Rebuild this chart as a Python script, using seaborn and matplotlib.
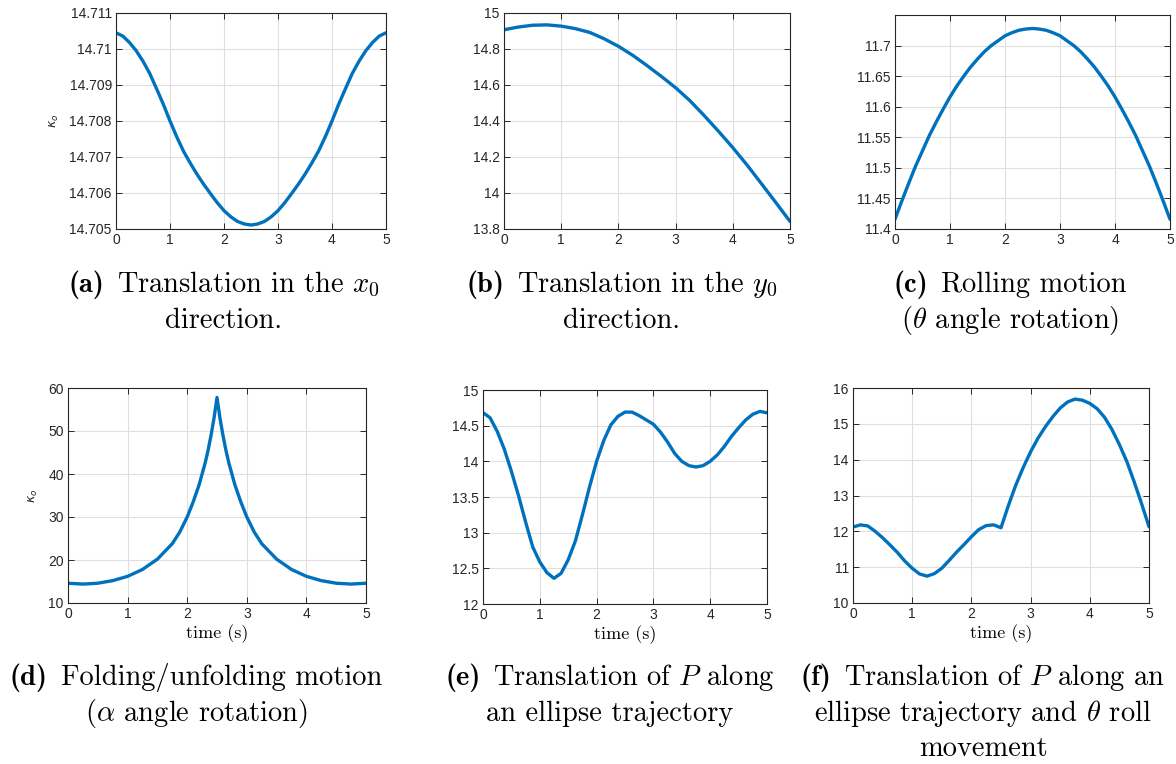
import matplotlib
matplotlib.use("Agg")
import matplotlib.pyplot as plt
import seaborn as sns
import pandas as pd

# ---------------- data ----------------
time_fine = [0, 0.125, 0.25, 0.375, 0.5, 0.625, 0.75, 0.875, 1.0, 1.125, 1.25, 1.375,
             1.5, 1.625, 1.75, 1.875, 2.0, 2.125, 2.25, 2.375, 2.5, 2.625, 2.75, 2.875,
             3.0, 3.125, 3.25, 3.375, 3.5, 3.625, 3.75, 3.875, 4.0, 4.125, 4.25, 4.375,
             4.5, 4.625, 4.75, 4.875, 5.0]

kappa_a = [14.71045, 14.71036, 14.71018, 14.70995, 14.70966, 14.70932, 14.70890,
           14.70847, 14.70800, 14.70756, 14.70716, 14.70683, 14.70652, 14.70624,
           14.70598, 14.70573, 14.70551, 14.70534, 14.70521, 14.70514, 14.70511,
           14.70514, 14.70521, 14.70534, 14.70551, 14.70573, 14.70598, 14.70624,
           14.70652, 14.70683, 14.70716, 14.70756, 14.70800, 14.70847, 14.70890,
           14.70932, 14.70966, 14.70995, 14.71018, 14.71036, 14.71045]

time_b = [0, 0.25, 0.5, 0.75, 1.0, 1.25, 1.5, 1.75, 2.0, 2.25, 2.5,
          2.75, 3.0, 3.25, 3.5, 3.75, 4.0, 4.25, 4.5, 4.75, 5.0]
kappa_b = [14.907, 14.922, 14.932, 14.934, 14.927, 14.913, 14.892, 14.857, 14.815,
           14.765, 14.708, 14.648, 14.585, 14.513, 14.430, 14.343, 14.252, 14.155,
           14.052, 13.948, 13.842]

kappa_c = [11.416, 11.446, 11.475, 11.503, 11.528, 11.553, 11.575, 11.596, 11.616,
           11.634, 11.650, 11.665, 11.678, 11.690, 11.700, 11.708, 11.716, 11.721,
           11.725, 11.727, 11.728, 11.727, 11.725, 11.721, 11.716, 11.708, 11.700,
           11.690, 11.678, 11.665, 11.650, 11.634, 11.616, 11.596, 11.575, 11.553,
           11.528, 11.503, 11.475, 11.446, 11.416]

time_d = [0, 0.25, 0.5, 0.75, 1.0, 1.25, 1.5, 1.75, 1.875, 2.0, 2.1, 2.2, 2.3, 2.35,
          2.4, 2.45, 2.5, 2.55, 2.6, 2.65, 2.7, 2.8, 2.9, 3.0, 3.125, 3.25, 3.5,
          3.75, 4.0, 4.25, 4.5, 4.75, 5.0]
kappa_d = [14.6, 14.4, 14.6, 15.2, 16.2, 17.8, 20.2, 23.8, 26.5, 30.0, 33.5, 37.5,
           42.5, 45.5, 49.0, 53.0, 57.8, 53.0, 49.0, 45.5, 42.5, 37.5, 33.5, 30.0,
           26.5, 23.8, 20.2, 17.8, 16.2, 15.2, 14.6, 14.4, 14.6]

kappa_e = [14.683, 14.61, 14.42, 14.17, 13.86, 13.52, 13.15, 12.80, 12.59, 12.44,
           12.36, 12.43, 12.62, 12.88, 13.25, 13.64, 14.00, 14.29, 14.51, 14.63,
           14.69, 14.69, 14.64, 14.58, 14.52, 14.41, 14.27, 14.11, 14.00, 13.94,
           13.92, 13.94, 14.00, 14.09, 14.21, 14.35, 14.47, 14.58, 14.66, 14.70,
           14.68]

kappa_f = [12.12, 12.18, 12.15, 12.00, 11.82, 11.62, 11.41, 11.17, 10.97, 10.81,
           10.75, 10.82, 10.97, 11.19, 11.42, 11.63, 11.85, 12.05, 12.16, 12.18,
           12.10, 12.72, 13.29, 13.78, 14.22, 14.60, 14.92, 15.20, 15.44, 15.61,
           15.69, 15.66, 15.57, 15.42, 15.18, 14.84, 14.42, 13.95, 13.38, 12.77,
           12.13]

x_ticks = [0, 1, 2, 3, 4, 5]
yticks_a = [14.705, 14.706, 14.707, 14.708, 14.709, 14.71, 14.711]
ylabels_a = ["14.705", "14.706", "14.707", "14.708", "14.709", "14.71", "14.711"]
yticks_b = [13.8, 14.0, 14.2, 14.4, 14.6, 14.8, 15.0]
ylabels_b = ["13.8", "14", "14.2", "14.4", "14.6", "14.8", "15"]
yticks_c = [11.4, 11.45, 11.5, 11.55, 11.6, 11.65, 11.7]
ylabels_c = ["11.4", "11.45", "11.5", "11.55", "11.6", "11.65", "11.7"]
yticks_d = [10, 20, 30, 40, 50, 60]
ylabels_d = ["10", "20", "30", "40", "50", "60"]
yticks_e = [12, 12.5, 13, 13.5, 14, 14.5, 15]
ylabels_e = ["12", "12.5", "13", "13.5", "14", "14.5", "15"]
yticks_f = [10, 11, 12, 13, 14, 15, 16]
ylabels_f = ["10", "11", "12", "13", "14", "15", "16"]

caption_tags = {"a": "(a)", "b": "(b)", "c": "(c)", "d": "(d)", "e": "(e)", "f": "(f)"}
caption_lines = {
    "a": [r"Translation in the $x_0$", "direction."],
    "b": [r"Translation in the $y_0$", "direction."],
    "c": [r"Rolling motion", r"($\theta$ angle rotation)"],
    "d": [r"Folding/unfolding motion", r"($\alpha$ angle rotation)"],
    "e": [r"Translation of $P$ along", "an ellipse trajectory"],
    "f": [r"Translation of $P$ along an", r"ellipse trajectory and $\theta$ roll", "movement"],
}

# ---------------- style ----------------
sns.set_theme(style="white")
plt.rcParams["font.family"] = ["Liberation Sans", "DejaVu Sans"]
plt.rcParams["mathtext.fontset"] = "cm"

LINE = "#0072BD"
DARK = "#262626"
CAP_SIZE = 20.5

W, H = 1176, 764
fig = plt.figure(figsize=(W / 100, H / 100), dpi=100)
renderer = fig.canvas.get_renderer()


def px_axes(x0, y0, x1, y1):
    return fig.add_axes([x0 / W, 1 - y1 / H, (x1 - x0) / W, (y1 - y0) / H])


panels = [
    ("a", (116, 13, 386, 229), time_fine, kappa_a, (14.705, 14.711), yticks_a, ylabels_a, True, False),
    ("b", (504, 13, 790, 229), time_b, kappa_b, (13.8, 15.0), yticks_b, ylabels_b, False, False),
    ("c", (895, 15, 1170, 229), time_fine, kappa_c, (11.4, 11.75), yticks_c, ylabels_c, False, False),
    ("d", (68, 388, 366, 603), time_d, kappa_d, (10, 60), yticks_d, ylabels_d, True, True),
    ("e", (483, 390, 767, 604), time_fine, kappa_e, (12, 15), yticks_e, ylabels_e, False, True),
    ("f", (853, 388, 1149, 603), time_fine, kappa_f, (10, 16), yticks_f, ylabels_f, False, True),
]

cap_pos = {
    "a": (224, [292, 328]),
    "b": (622, [292, 328]),
    "c": (1010, [292, 328]),
    "d": (196, [685, 721]),
    "e": (610, [685, 721]),
    "f": (983, [685, 721, 756]),
}

for key, box, tx, ky, ylim, yt, yl, has_ylabel, has_xlabel in panels:
    ax = px_axes(*box)
    df = pd.DataFrame({"time": tx, "kappa": ky})
    sns.lineplot(data=df, x="time", y="kappa", ax=ax, color=LINE, linewidth=2.4,
                 sort=False, estimator=None)
    ax.set_xlim(0, 5)
    ax.set_ylim(*ylim)
    ax.set_xticks(x_ticks)
    ax.set_xticklabels([str(v) for v in x_ticks])
    ax.set_yticks(yt)
    ax.set_yticklabels(yl)
    ax.grid(True, color="#dfdfdf", linewidth=0.8)
    ax.set_axisbelow(True)
    for s in ax.spines.values():
        s.set_color(DARK)
        s.set_linewidth(0.8)
    ax.tick_params(direction="in", length=4, width=0.7, color=DARK, labelcolor=DARK,
                   labelsize=10, top=True, right=True, bottom=True, left=True, pad=3)
    ax.set_xlabel("")
    ax.set_ylabel("")
    if has_ylabel:
        ax.set_ylabel(r"$\kappa_o$", fontsize=9, color=DARK, math_fontfamily="dejavusans",
                      labelpad=6)
    if has_xlabel:
        ax.set_xlabel("time (s)", fontsize=13, family="cmr10", color="black", labelpad=2)

    # captions: bold tag + regular text, centred as a whole
    cx, ys = cap_pos[key]
    lines = caption_lines[key]
    gap = 13
    for i, (line, yy) in enumerate(zip(lines, ys)):
        yf = 1 - yy / H
        if i == 0:
            t_tag = fig.text(0, yf, caption_tags[key], ha="left", va="baseline",
                             fontsize=CAP_SIZE, family="cmb10", color="black")
            t_rest = fig.text(0, yf, line, ha="left", va="baseline",
                              fontsize=CAP_SIZE, family="cmr10", color="black")
            w_tag = t_tag.get_window_extent(renderer).width
            w_rest = t_rest.get_window_extent(renderer).width
            total = w_tag + gap + w_rest
            x_start = cx - total / 2
            t_tag.set_x(x_start / W)
            t_rest.set_x((x_start + w_tag + gap) / W)
        else:
            fig.text(cx / W, yf, line, ha="center", va="baseline",
                     fontsize=CAP_SIZE, family="cmr10", color="black")

fig.savefig("out.png", dpi=100)
